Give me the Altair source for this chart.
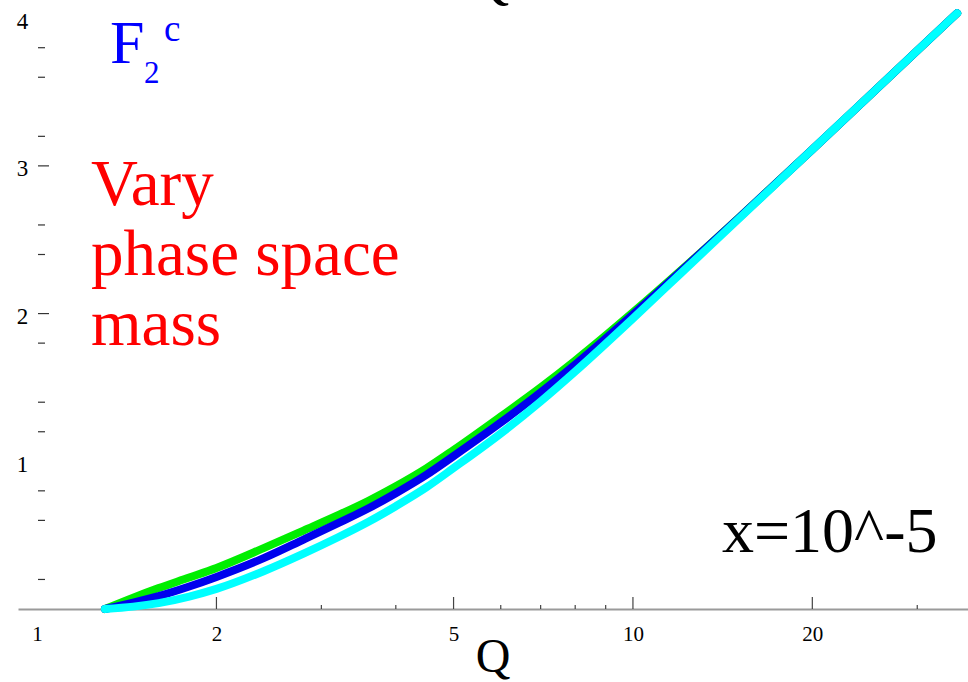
import altair as alt
import pandas as pd

# Q grid (GeV) and F2 charm values for three phase-space mass choices, x = 1e-5
Q = [1.3, 1.45, 1.6, 1.8, 2.0, 2.4, 2.8, 3.2, 3.6, 4.0, 4.5, 5.0, 6.0, 7.0, 8.0,
     10.0, 12.0, 15.0, 20.0, 25.0, 30.0, 35.0]
F2C_GREEN = [0.0, 0.077, 0.142, 0.213, 0.278, 0.412, 0.531, 0.635, 0.733, 0.831,
             0.952, 1.076, 1.303, 1.500, 1.682, 2.008, 2.288, 2.643, 3.111, 3.479,
             3.780, 4.034]
F2C_BLUE = [0.0, 0.043, 0.087, 0.152, 0.217, 0.344, 0.470, 0.581, 0.682, 0.784,
            0.908, 1.035, 1.262, 1.466, 1.655, 1.994, 2.282, 2.641, 3.111, 3.479,
            3.780, 4.034]
F2C_CYAN = [0.0, 0.016, 0.040, 0.084, 0.136, 0.256, 0.375, 0.486, 0.591, 0.696,
            0.823, 0.954, 1.188, 1.405, 1.608, 1.967, 2.268, 2.636, 3.111, 3.479,
            3.780, 4.034]

SERIES = ["green", "blue", "cyan"]
COLORS = ["#00ee00", "#0000ee", "#00ffff"]

# axis ticks and labels
X_LABELS = [1, 2, 5, 10, 20]
X_MAJOR_TICKS = [2, 5, 10, 20]
X_MINOR_TICKS = [3, 4, 6, 7, 8, 9, 30]
Y_LABELS = [1, 2, 3, 4]
Y_MAJOR_TICKS = [2.0, 3.0]
Y_MINOR_TICKS = [0.2, 0.6, 0.8, 1.2, 1.4, 1.8, 2.4, 2.6, 3.2, 3.6, 3.8]

# annotation texts
TITLE_F = "F"
TITLE_SUB = "2"
TITLE_SUP = "c"
NOTE_LINES = ["Vary", "phase space", "mass"]
KINEMATICS = "x=10^-5"
X_TITLE = "Q"
TOP_TITLE = "Q"

W, H = 950, 609
SERIF = "Liberation Serif"

x_scale = alt.Scale(type="log", domain=[0.929, 36.5], nice=False, zero=False)
y_scale = alt.Scale(domain=[0, 4.123], nice=False, zero=False)

x_axis = alt.Axis(values=X_LABELS, format="~g", ticks=False, tickSize=0, grid=False,
                  domainColor="#9a9a9a", domainWidth=2, labelFont=SERIF,
                  labelFontSize=21, labelColor="black", labelPadding=14, title=None)
y_axis = alt.Axis(values=Y_LABELS, format="~g", ticks=False, tickSize=0, grid=False,
                  domain=False, labelFont=SERIF, labelFontSize=23, labelColor="black",
                  labelAlign="center", labelPadding=0, offset=-4, labelOffset=3,
                  title=None)

layers = []

# base layer carrying the axes
base = alt.Chart(pd.DataFrame({"Q": Q, "F2c": F2C_CYAN})).mark_point(opacity=0).encode(
    x=alt.X("Q:Q", scale=x_scale, axis=x_axis),
    y=alt.Y("F2c:Q", scale=y_scale, axis=y_axis),
)
layers.append(base)

# x-axis tick marks pointing up into the plot
xt_major = alt.Chart(pd.DataFrame({"Q": X_MAJOR_TICKS})).mark_rule(
    color="#444444", strokeWidth=1.2).encode(
    x=alt.X("Q:Q", scale=x_scale), y=alt.value(H), y2=alt.value(H - 12))
xt_minor = alt.Chart(pd.DataFrame({"Q": X_MINOR_TICKS})).mark_rule(
    color="#444444", strokeWidth=1.2).encode(
    x=alt.X("Q:Q", scale=x_scale), y=alt.value(H), y2=alt.value(H - 4))
# y-axis tick marks
yt_major = alt.Chart(pd.DataFrame({"F2c": Y_MAJOR_TICKS})).mark_rule(
    color="#333333", strokeWidth=1.2).encode(
    y=alt.Y("F2c:Q", scale=y_scale), x=alt.value(20), x2=alt.value(31))
yt_minor = alt.Chart(pd.DataFrame({"F2c": Y_MINOR_TICKS})).mark_rule(
    color="#333333", strokeWidth=1.2).encode(
    y=alt.Y("F2c:Q", scale=y_scale), x=alt.value(20), x2=alt.value(27))
layers += [xt_major, xt_minor, yt_major, yt_minor]

# the three curves, green first so cyan ends on top
for name, vals, col in zip(SERIES, [F2C_GREEN, F2C_BLUE, F2C_CYAN], COLORS):
    df = pd.DataFrame({"Q": Q, "F2c": vals, "series": name})
    layers.append(
        alt.Chart(df).mark_line(color=col, strokeWidth=8, strokeCap="round",
                                strokeJoin="round", interpolate="monotone").encode(
            x=alt.X("Q:Q", scale=x_scale),
            y=alt.Y("F2c:Q", scale=y_scale),
            order="Q:Q",
        )
    )


def label(text, x, y, size, color, align="left"):
    return alt.Chart(pd.DataFrame({"t": [text]})).mark_text(
        font=SERIF, fontSize=size, color=color, align=align, baseline="alphabetic"
    ).encode(text="t:N", x=alt.value(x), y=alt.value(y))


layers.append(label(TITLE_F, 92, 63, 62, "#0000ff"))
layers.append(label(TITLE_SUB, 126, 83, 31, "#0000ff"))
layers.append(label(TITLE_SUP, 146, 41, 37, "#0000ff"))
for i, line in enumerate(NOTE_LINES):
    layers.append(label(line, 73, 205 + 70 * i, 65, "#ff0000"))
layers.append(label(KINEMATICS, 704, 552, 64, "black"))
layers.append(label(X_TITLE, 475, 672, 48, "black", align="center"))
layers.append(label(TOP_TITLE, 471, -3, 56, "black", align="center"))

chart = alt.layer(*layers).properties(
    width=W, height=H,
    autosize=alt.AutoSizeParams(type="none"),
    padding={"left": 18, "top": 0, "right": 0, "bottom": 73},
    background="white",
).configure_view(stroke=None)

chart.save("out.html", embed_options={"renderer": "svg", "actions": False})
